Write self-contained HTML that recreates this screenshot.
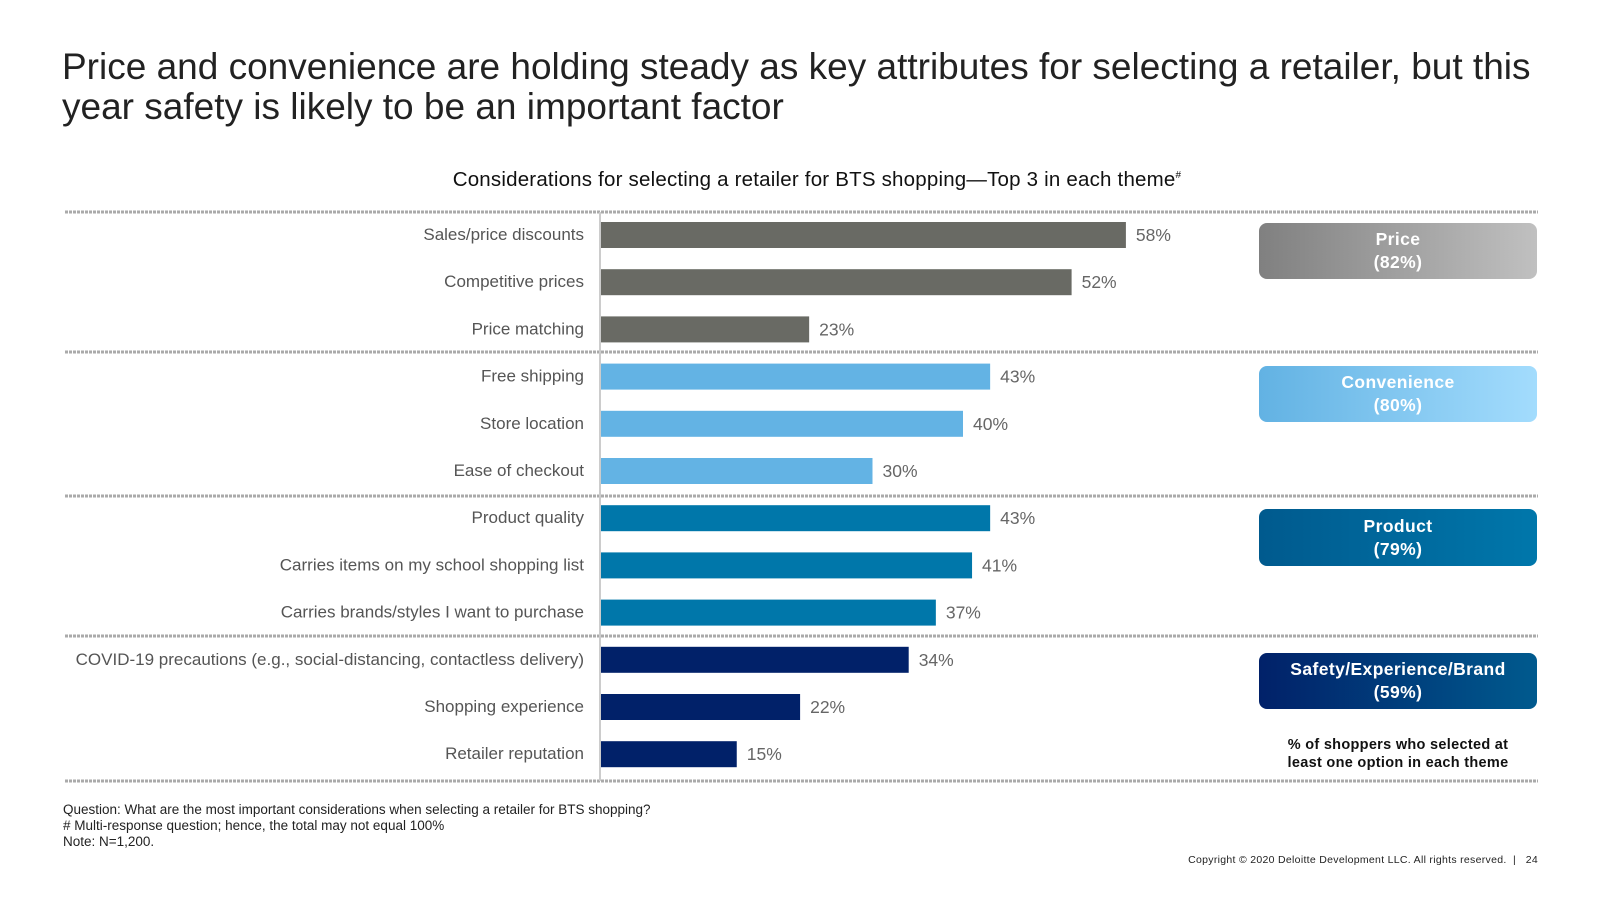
<!DOCTYPE html>
<html><head><meta charset="utf-8"><style>
body{margin:0;width:1600px;height:900px;background:#fff;font-family:"Liberation Sans",sans-serif;position:relative;overflow:hidden}
.abs{position:absolute}
#title{left:62px;top:47px;font-size:37px;line-height:40px;color:#222;width:1520px}
#sub{left:0;width:1634px;text-align:center;top:168px;font-size:20.5px;color:#111;letter-spacing:0.2px}
.box{position:absolute;left:1259px;width:278px;border-radius:8px;color:#fff;font-weight:bold;font-size:17.5px;letter-spacing:0.4px;text-align:center;line-height:23px;display:flex;flex-direction:column;justify-content:center}
.note{left:63px;font-size:13.5px;color:#222}
</style></head><body>
<div id="title" class="abs">Price and convenience are holding steady as key attributes for selecting a retailer, but this year safety is likely to be an important factor</div>
<div id="sub" class="abs">Considerations for selecting a retailer for BTS shopping—Top 3 in each theme<sup style="font-size:10px">#</sup></div>
<svg id="chart" class="abs" style="left:0;top:0" width="1600" height="900"></svg>
<div class="box" style="top:223px;height:56px;background:linear-gradient(90deg,#808080,#c0c0c0)">Price<br>(82%)</div>
<div class="box" style="top:366px;height:56px;background:linear-gradient(90deg,#62b2e3,#a3dcfd)">Convenience<br>(80%)</div>
<div class="box" style="top:509px;height:57px;background:linear-gradient(90deg,#005a8e,#0077ab)">Product<br>(79%)</div>
<div class="box" style="top:653px;height:56px;background:linear-gradient(90deg,#012169,#005a8e)">Safety/Experience/Brand<br>(59%)</div>
<div class="abs" style="left:1259px;width:278px;top:736px;text-align:center;font-size:14.5px;font-weight:bold;letter-spacing:0.3px;line-height:18px;color:#111">% of shoppers who selected at<br>least one option in each theme</div>
<div class="abs note" style="top:802px">Question: What are the most important considerations when selecting a retailer for BTS shopping?</div>
<div class="abs note" style="top:818px"># Multi-response question; hence, the total may not equal 100%</div>
<div class="abs note" style="top:834px">Note: N=1,200.</div>
<div class="abs" style="right:62px;top:854px;font-size:10.5px;letter-spacing:0.3px;color:#222">Copyright © 2020 Deloitte Development LLC. All rights reserved. &nbsp;| &nbsp; 24</div>
<script>
const categories=["Sales/price discounts","Competitive prices","Price matching","Free shipping","Store location","Ease of checkout","Product quality","Carries items on my school shopping list","Carries brands/styles I want to purchase","COVID-19 precautions (e.g., social-distancing, contactless delivery)","Shopping experience","Retailer reputation"];
const values=[58,52,23,43,40,30,43,41,37,34,22,15];
const themes=[0,0,0,1,1,1,2,2,2,3,3,3];
const themeColors=["#696a64","#63b3e4","#0077aa","#012169"];
const NS="http://www.w3.org/2000/svg";
const svg=document.getElementById('chart');
const x0=601,pxPer=9.05,y0=235,step=47.2,bh=26;
const xs=v=>v*pxPer;
const ys=i=>y0+i*step;
function mk(t,a){const e=document.createElementNS(NS,t);for(const k in a)e.setAttribute(k,a[k]);svg.appendChild(e);return e;}
[212,352,496,636,781].forEach(y=>{
 const l=mk('line',{x1:65,x2:1538,y1:y,y2:y,stroke:'#aaa','stroke-width':3,'stroke-dasharray':'3 1'});
 
 
});
const ax=mk('line',{x1:600,x2:600,y1:212,y2:781,stroke:'#ccc','stroke-width':2});


values.forEach((v,i)=>{
 const cy=ys(i);
 const r=mk('rect',{x:x0,y:cy-bh/2,width:xs(v),height:bh,fill:themeColors[themes[i]]});
 
 
 const t=mk('text',{x:x0+xs(v)+10,y:cy+6,'font-size':17.5,fill:'#666','font-family':'Liberation Sans, sans-serif'});
 t.textContent=v+'%';
 
 
 const c=mk('text',{x:584,y:cy+5,'font-size':17,fill:'#555','text-anchor':'end','font-family':'Liberation Sans, sans-serif'});
 c.textContent=categories[i];
 
 
});
</script>
</body></html>
